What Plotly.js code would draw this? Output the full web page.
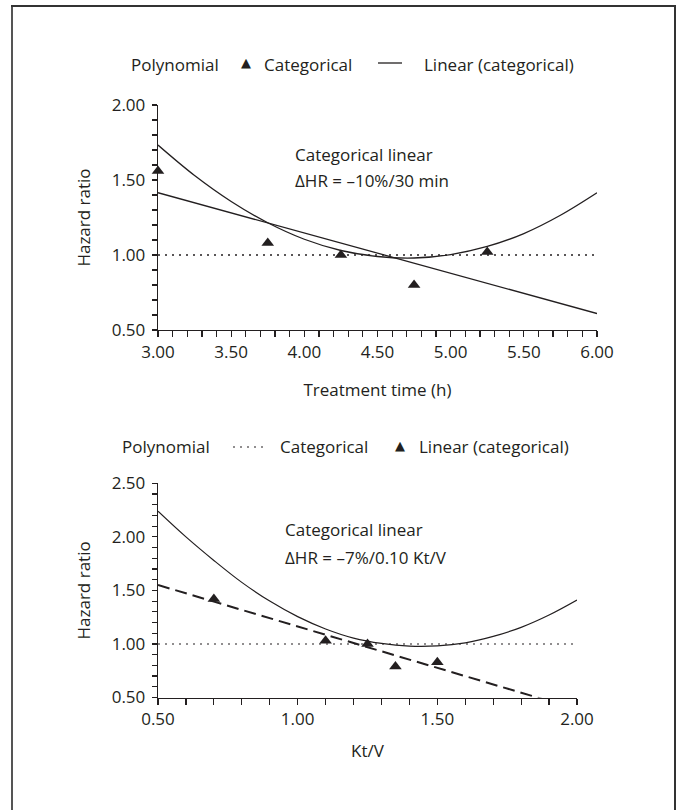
<!DOCTYPE html>
<html>
<head>
<meta charset="utf-8">
<script src="https://cdn.plot.ly/plotly-3.0.1.min.js"></script>
<style>
  html, body { margin: 0; padding: 0; background: #fff; }
  #chart { width: 680px; height: 810px; }
</style>
</head>
<body>
<div id="chart"></div>
<script>
// ---- Panel A: treatment time ----
const timeGrid = [3.00, 3.25, 3.50, 3.75, 4.00, 4.25, 4.50, 4.75, 5.00, 5.25, 5.50, 5.75, 6.00];
const timePolyHR = [1.733, 1.53, 1.357, 1.215, 1.105, 1.03, 0.99, 0.98, 1.003, 1.057, 1.143, 1.265, 1.415];
const timeCatX = [3.00, 3.75, 4.25, 4.75, 5.25];
const timeCatHR = [1.56, 1.08, 1.00, 0.80, 1.02];
const timeLinX = [3.00, 6.00];
const timeLinHR = [1.415, 0.61];
const timeRefX = [3.00, 6.00];
const timeRefHR = [1.00, 1.00];

// ---- Panel B: Kt/V ----
const ktvGrid = [0.5, 0.6, 0.7, 0.8, 0.9, 1.0, 1.1, 1.2, 1.3, 1.4, 1.5, 1.6, 1.7, 1.8, 1.9, 2.0];
const ktvPolyHR = [2.24, 2.00, 1.78, 1.575, 1.40, 1.255, 1.14, 1.055, 1.005, 0.98, 0.982, 1.01, 1.07, 1.155, 1.27, 1.41];
const ktvCatX = [0.70, 1.10, 1.25, 1.35, 1.50];
const ktvCatHR = [1.42, 1.03, 1.00, 0.79, 0.83];
const ktvLinX = [0.50, 2.00];
const ktvLinHR = [1.55, 0.39];
const ktvRefX = [0.50, 2.00];
const ktvRefHR = [1.00, 1.00];

// axis extents
const timeRange = [3.0, 6.0];
const hrRange1 = [0.5, 2.0];
const ktvRange = [0.5, 2.0];
const hrRange2 = [0.5, 2.5];

// a tick every 0.1; only multiples of 0.5 carry a label
function tenthTicks(range) {
  const vals = [], text = [];
  const a = Math.round(range[0] * 10), b = Math.round(range[1] * 10);
  for (let i = a; i <= b; i++) {
    vals.push(i / 10);
    text.push(i % 5 === 0 ? (i / 10).toFixed(2) : '');
  }
  return { tickvals: vals, ticktext: text };
}

const INK = '#231f20';
const FONT = 'Open Sans, Noto Sans, sans-serif';
const W = 680, H = 810;
const px = v => v / W;
const py = v => 1 - v / H;

const traces = [
  // panel A
  { x: timeRefX, y: timeRefHR, xaxis: 'x', yaxis: 'y', mode: 'lines',
    line: { color: INK, width: 1.4, dash: '2px,5px' }, hoverinfo: 'skip' },
  { x: timeLinX, y: timeLinHR, xaxis: 'x', yaxis: 'y', mode: 'lines',
    line: { color: INK, width: 1.3 } },
  { x: timeGrid, y: timePolyHR, xaxis: 'x', yaxis: 'y', mode: 'lines',
    line: { color: INK, width: 1.3, shape: 'spline', smoothing: 1 } },
  { x: timeCatX, y: timeCatHR, xaxis: 'x', yaxis: 'y', mode: 'markers',
    marker: { symbol: 'triangle-up', size: 11, color: INK }, cliponaxis: false },
  // panel B
  { x: ktvRefX, y: ktvRefHR, xaxis: 'x2', yaxis: 'y2', mode: 'lines',
    line: { color: INK, width: 1.1, dash: '2px,5px' }, hoverinfo: 'skip' },
  { x: ktvLinX, y: ktvLinHR, xaxis: 'x2', yaxis: 'y2', mode: 'lines',
    line: { color: INK, width: 2, dash: '12px,6px' } },
  { x: ktvGrid, y: ktvPolyHR, xaxis: 'x2', yaxis: 'y2', mode: 'lines',
    line: { color: INK, width: 1.2, shape: 'spline', smoothing: 1 } },
  { x: ktvCatX, y: ktvCatHR, xaxis: 'x2', yaxis: 'y2', mode: 'markers',
    marker: { symbol: 'triangle-up', size: 11, color: INK }, cliponaxis: false }
];

function axis(range, len, extra) {
  return Object.assign({
    showgrid: false, zeroline: false, showline: true,
    linecolor: INK, linewidth: 1.3,
    range: range, tickmode: 'array',
    ticks: 'outside', ticklen: len, tickwidth: 1.2, tickcolor: INK,
    tickfont: { family: FONT, size: 17, color: INK },
    fixedrange: true
  }, tenthTicks(range), extra);
}

const titleFont = { family: FONT, size: 17, color: INK };

const layout = {
  width: W, height: H,
  margin: { l: 0, r: 0, t: 0, b: 0 },
  paper_bgcolor: '#fff', plot_bgcolor: 'rgba(0,0,0,0)',
  showlegend: false,
  xaxis: axis(timeRange, 6, {
    domain: [px(158), px(597)], anchor: 'y',
    title: { text: 'Treatment time (h)', font: titleFont, standoff: 22 }
  }),
  yaxis: axis(hrRange1, 5, {
    domain: [py(330), py(105)], anchor: 'x', ticklabelstandoff: 3,
    title: { text: 'Hazard ratio', font: titleFont, standoff: 16 }
  }),
  xaxis2: axis(ktvRange, 6, {
    domain: [px(158), px(577)], anchor: 'y2',
    title: { text: 'Kt/V', font: titleFont, standoff: 16 }
  }),
  yaxis2: axis(hrRange2, 5, {
    domain: [py(697.5), py(483.3)], anchor: 'x2', ticklabelstandoff: 3,
    title: { text: 'Hazard ratio', font: titleFont, standoff: 16 }
  }),
  annotations: [
    // panel A note
    { xref: 'x', yref: 'y', x: 3.92, y: 1.667, xanchor: 'left', yanchor: 'middle', showarrow: false,
      text: 'Categorical linear', font: titleFont },
    { xref: 'x', yref: 'y', x: 3.92, y: 1.50, xanchor: 'left', yanchor: 'middle', showarrow: false,
      text: '\u0394HR = \u201310%/30 min', font: titleFont },
    // panel B note
    { xref: 'x2', yref: 'y2', x: 0.946, y: 2.073, xanchor: 'left', yanchor: 'middle', showarrow: false,
      text: 'Categorical linear', font: titleFont },
    { xref: 'x2', yref: 'y2', x: 0.946, y: 1.81, xanchor: 'left', yanchor: 'middle', showarrow: false,
      text: '\u0394HR = \u20137%/0.10 Kt/V', font: titleFont },
    // panel A key
    { xref: 'paper', yref: 'paper', x: px(129), y: py(64), xanchor: 'left', yanchor: 'middle', showarrow: false,
      text: 'Polynomial', font: titleFont },
    { xref: 'paper', yref: 'paper', x: px(246), y: py(63), xanchor: 'center', yanchor: 'middle', showarrow: false,
      text: '\u25B2', font: { family: 'DejaVu Sans', size: 13, color: INK } },
    { xref: 'paper', yref: 'paper', x: px(262), y: py(64), xanchor: 'left', yanchor: 'middle', showarrow: false,
      text: 'Categorical', font: titleFont },
    { xref: 'paper', yref: 'paper', x: px(422), y: py(64), xanchor: 'left', yanchor: 'middle', showarrow: false,
      text: 'Linear (categorical)', font: titleFont },
    // panel B key
    { xref: 'paper', yref: 'paper', x: px(120), y: py(446), xanchor: 'left', yanchor: 'middle', showarrow: false,
      text: 'Polynomial', font: titleFont },
    { xref: 'paper', yref: 'paper', x: px(278), y: py(446), xanchor: 'left', yanchor: 'middle', showarrow: false,
      text: 'Categorical', font: titleFont },
    { xref: 'paper', yref: 'paper', x: px(400), y: py(445), xanchor: 'center', yanchor: 'middle', showarrow: false,
      text: '\u25B2', font: { family: 'DejaVu Sans', size: 13, color: INK } },
    { xref: 'paper', yref: 'paper', x: px(417), y: py(446), xanchor: 'left', yanchor: 'middle', showarrow: false,
      text: 'Linear (categorical)', font: titleFont }
  ],
  shapes: [
    // key glyphs
    { type: 'line', xref: 'paper', yref: 'paper', x0: px(378), x1: px(402), y0: py(63), y1: py(63),
      line: { color: INK, width: 1.3 } },
    { type: 'line', xref: 'paper', yref: 'paper', x0: px(233), x1: px(268), y0: py(447), y1: py(447),
      line: { color: INK, width: 1.1, dash: '2px,5px' } },
    // figure frame
    { type: 'line', xref: 'paper', yref: 'paper', x0: px(12), x1: px(12), y0: py(6), y1: py(812),
      line: { color: '#555', width: 2 } },
    { type: 'line', xref: 'paper', yref: 'paper', x0: px(675), x1: px(675), y0: py(6), y1: py(812),
      line: { color: '#333', width: 2 } },
    { type: 'line', xref: 'paper', yref: 'paper', x0: px(11), x1: px(676), y0: py(6), y1: py(6),
      line: { color: '#333', width: 2 } }
  ]
};

Plotly.newPlot('chart', traces, layout, { staticPlot: true, displayModeBar: false });
</script>
</body>
</html>
